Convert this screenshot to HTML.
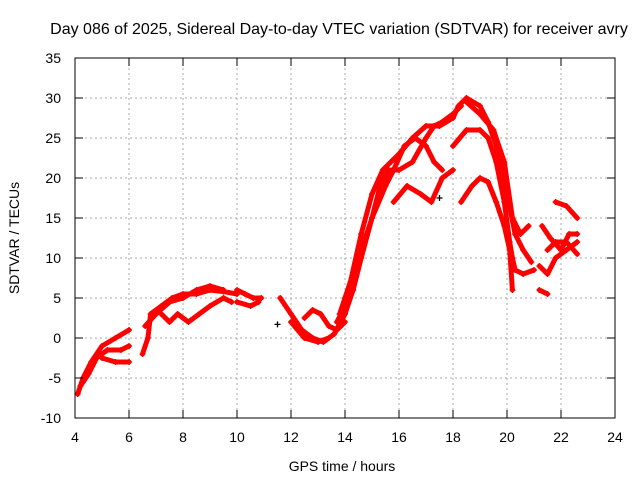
<!DOCTYPE html>
<html><head><meta charset="utf-8"><style>
body{margin:0;background:#fff;}
svg text{font-family:"Liberation Sans",sans-serif;font-size:14px;fill:#000;}
</style></head><body>
<svg id="chart" width="640" height="480" xmlns="http://www.w3.org/2000/svg">
<rect width="640" height="480" fill="#fff"/>
<text x="339" y="34" text-anchor="middle" style="font-size:16px">Day 086 of 2025, Sidereal Day-to-day VTEC variation (SDTVAR) for receiver avry</text>
<text x="342" y="471" text-anchor="middle">GPS time / hours</text>
<text transform="translate(19,238) rotate(-90)" text-anchor="middle">SDTVAR / TECUs</text>
<g id="grid"></g><g id="marks"></g>
<rect x="75" y="58" width="540" height="360" fill="none" stroke="#000"/>
<g id="ticks"></g>
</svg>
<script>
const xTicks=[4,6,8,10,12,14,16,18,20,22,24];
const yTicks=[-10,-5,0,5,10,15,20,25,30,35];
const tracks=[
[[4.1,-7],[4.3,-5],[4.6,-3],[5,-1],[5.5,0],[6,1]],
[[4.2,-6],[4.5,-4.5],[4.8,-2.5],[5.2,-1.5],[5.7,-1.5],[6,-1]],
[[5,-2.5],[5.5,-3],[6,-3]],
[[6.5,-2],[6.7,0],[6.8,3],[7.2,4],[7.6,5],[8,5.5],[8.5,5.5],[9,6],[9.5,5.8],[10,5.5]],
[[6.6,1.5],[7,3],[7.5,4.5],[8,5],[8.5,6],[9,6.5],[9.5,6]],
[[7.2,3],[7.5,2],[7.8,3],[8.2,2],[8.6,3],[9,4],[9.5,5],[9.8,4.5]],
[[10,6],[10.3,5.5],[10.6,5],[10.9,5]],
[[10,4.5],[10.5,4],[10.8,4.5]],
[[11.6,5],[12,3],[12.4,1],[12.8,0],[13.2,-0.5],[13.6,0.5],[14,3],[14.3,6]],
[[12.5,2.5],[12.8,3.5],[13.1,3],[13.4,1.5],[13.7,1],[14,2]],
[[12,2],[12.5,0],[13,-0.5],[13.4,0]],
[[13.7,2],[14,4],[14.3,6],[14.6,10],[15,15],[15.3,19],[15.6,21],[16,21],[16.5,22],[17,25],[17.3,26.5],[17.6,27],[18,28],[18.3,29]],
[[13.8,3],[14.2,7],[14.6,13],[15,18],[15.4,21],[15.7,22],[16,23],[16.5,25],[17,26.5],[17.5,26.5],[18,27.5],[18.2,29],[18.5,30],[19,29],[19.3,27],[19.6,24],[20,18],[20.3,13],[20.6,11],[20.9,9.5]],
[[14,5],[14.5,10],[15,15],[15.5,19],[15.8,21],[16.2,24],[16.6,25],[17,24],[17.3,22],[17.6,21]],
[[15.8,17],[16.3,19],[16.8,18],[17.2,17],[17.6,20],[18,21]],
[[18,24],[18.5,26],[19,26],[19.3,25],[19.6,22],[19.9,17],[20.1,12],[20.2,10],[20.3,8.5],[20.6,8],[21,8.5]],
[[18.3,17],[18.7,19],[19,20],[19.3,19.5],[19.6,17],[19.9,14],[20.1,11],[20.2,6]],
[[18.5,29.5],[19,28],[19.5,26],[19.9,22],[20.2,15],[20.5,13],[20.8,14]],
[[21.2,9],[21.5,8],[21.8,10],[22.2,11],[22.6,12]],
[[21.3,14],[21.6,12.5],[22,11],[22.3,13],[22.6,13]],
[[21.8,17],[22.2,16.5],[22.6,15]],
[[21.2,6],[21.5,5.5]],
[[21.5,11],[21.8,12],[22.2,12],[22.6,10.5]]
];
const blackPoints=[[11.5,1.7],[17.5,17.5]];
const NS="http://www.w3.org/2000/svg";
const X=v=>75+(v-4)*27, Y=v=>418-(v+10)*8;
function mk(t,a,p){const e=document.createElementNS(NS,t);for(const k in a)e.setAttribute(k,a[k]);p.appendChild(e);return e;}
const grid=document.getElementById('grid'),ticks=document.getElementById('ticks'),marks=document.getElementById('marks');
xTicks.forEach(v=>{
 if(v>4&&v<24){const l=mk('line',{x1:X(v),x2:X(v),y1:58,y2:418,stroke:'#aaa','stroke-dasharray':'2,3'},grid);
 }
 mk('line',{x1:X(v),x2:X(v),y1:418,y2:410,stroke:'#000'},ticks);
 mk('line',{x1:X(v),x2:X(v),y1:58,y2:66,stroke:'#000'},ticks);
 const t=mk('text',{x:X(v),y:442,'text-anchor':'middle'},ticks);t.textContent=v;
 
});
yTicks.forEach(v=>{
 if(v>-10&&v<35){const l=mk('line',{x1:75,x2:615,y1:Y(v),y2:Y(v),stroke:'#aaa','stroke-dasharray':'2,3'},grid);
 }
 mk('line',{x1:75,x2:83,y1:Y(v),y2:Y(v),stroke:'#000'},ticks);
 mk('line',{x1:615,x2:607,y1:Y(v),y2:Y(v),stroke:'#000'},ticks);
 const t=mk('text',{x:61,y:Y(v)+5,'text-anchor':'end'},ticks);t.textContent=v;
 
});
function plus(x,y,c,p){mk('path',{d:`M${x-3},${y}h6M${x},${y-3}v6`,stroke:c,'stroke-width':1.3},p);}
tracks.forEach(tr=>{
 const g=mk('g',{},marks);
 
 
 mk('polyline',{points:tr.map(p=>X(p[0])+','+Y(p[1])).join(' '),fill:'none',stroke:'#f00','stroke-width':5,'stroke-linejoin':'round','stroke-linecap':'round'},g);
 tr.forEach(p=>plus(X(p[0]),Y(p[1]),'#f00',g));
});
blackPoints.forEach(p=>{const g=mk('g',{},marks);
 
 
 plus(X(p[0]),Y(p[1]),'#000',g);});
</script>
</body></html>
